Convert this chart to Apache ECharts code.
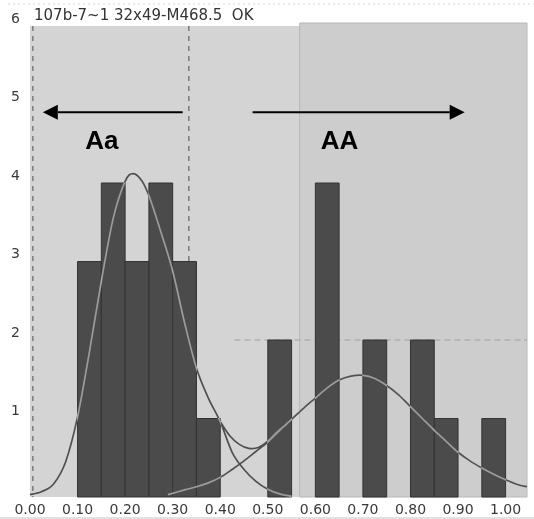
<!DOCTYPE html>
<html>
<head>
<meta charset="utf-8">
<script src="https://cdn.jsdelivr.net/npm/echarts@6/dist/echarts.min.js"></script>
<style>
  html, body { margin: 0; padding: 0; background: #ffffff; }
  #chart { width: 534px; height: 519px; }
</style>
</head>
<body>
<div id="chart"></div>
<script>
// Histogram bins (left edge of each 0.05-wide bin) and their counts
const binStarts = [0.10, 0.15, 0.20, 0.25, 0.30, 0.35, 0.50, 0.60, 0.70, 0.80, 0.85, 0.95];
const binCounts = [3, 4, 3, 4, 3, 1, 2, 4, 2, 2, 1, 1];
const binWidth = 0.05;

// Axis ranges and ticks
const xMin = 0, xMax = 1.045, xStep = 0.1;
const yMin = 0, yMax = 6, yStep = 1;

// Fitted density curves, [x, count]
const leftFit = [
  [0.000, 0.03], [0.025, 0.07], [0.050, 0.17], [0.075, 0.45], [0.100, 1.02],
  [0.125, 1.85], [0.150, 2.75], [0.175, 3.55], [0.200, 4.02], [0.217, 4.12],
  [0.235, 4.03], [0.250, 3.84], [0.275, 3.38], [0.300, 2.88], [0.325, 2.22],
  [0.350, 1.64], [0.375, 1.26], [0.400, 0.96], [0.425, 0.57], [0.450, 0.35],
  [0.475, 0.20], [0.500, 0.10], [0.525, 0.04], [0.550, 0.01]
];
const rightFit = [
  [0.290, 0.03], [0.325, 0.09], [0.350, 0.13], [0.375, 0.18], [0.400, 0.25],
  [0.425, 0.35], [0.450, 0.46], [0.475, 0.58], [0.500, 0.70], [0.525, 0.85],
  [0.550, 0.99], [0.575, 1.13], [0.600, 1.26], [0.625, 1.39], [0.650, 1.49],
  [0.675, 1.54], [0.700, 1.55], [0.725, 1.51], [0.750, 1.42], [0.775, 1.30],
  [0.800, 1.15], [0.825, 1.00], [0.850, 0.85], [0.875, 0.71], [0.900, 0.57],
  [0.925, 0.46], [0.950, 0.37], [0.975, 0.29], [1.000, 0.22], [1.025, 0.16],
  [1.045, 0.13]
];
const mixFit = [
  [0.400, 0.96], [0.420, 0.78], [0.440, 0.67], [0.460, 0.62], [0.480, 0.63],
  [0.500, 0.71], [0.520, 0.83], [0.540, 0.93]
];

// Header text and genotype annotations
const header = '107b-7~1 32x49-M468.5  OK';
const groupLabels = ['Aa', 'AA'];
const groupLabelAt = [[0.151, 4.52], [0.651, 4.52]];
const groupArrows = [[0.321, 0.027], [0.468, 0.914]]; // tail x -> head x
const arrowLevel = 4.9;

// Reference guides
const cutLines = [0.006, 0.334];
const guideLevel = 2;
const guideFrom = 0.43;
const shadedFrom = 0.567;

const chart = echarts.init(document.getElementById('chart'), null, { renderer: 'canvas' });

const labelFont = 'DejaVu Sans, Verdana, sans-serif';
const CURVE_STROKE = '#fefefe';

// Catmull-Rom spline through screen points, as SVG path data
function splinePath(pts) {
  let d = 'M' + pts[0][0] + ' ' + pts[0][1];
  for (let i = 0; i < pts.length - 1; i++) {
    const p0 = pts[Math.max(i - 1, 0)];
    const p1 = pts[i];
    const p2 = pts[i + 1];
    const p3 = pts[Math.min(i + 2, pts.length - 1)];
    const c1x = p1[0] + (p2[0] - p0[0]) / 6, c1y = p1[1] + (p2[1] - p0[1]) / 6;
    const c2x = p2[0] - (p3[0] - p1[0]) / 6, c2y = p2[1] - (p3[1] - p1[1]) / 6;
    d += ' C' + c1x + ' ' + c1y + ' ' + c2x + ' ' + c2y + ' ' + p2[0] + ' ' + p2[1];
  }
  return d;
}

const option = {
  animation: false,
  backgroundColor: '#ffffff',
  grid: {
    left: 30, right: 7, top: 26, bottom: 22,
    show: true, backgroundColor: '#d4d4d4', borderWidth: 0
  },
  xAxis: {
    type: 'value', min: xMin, max: xMax, interval: xStep,
    axisLine: { show: false }, axisTick: { show: false }, splitLine: { show: false },
    axisLabel: {
      margin: 6, color: '#3a3a3a', fontFamily: labelFont, fontSize: 14,
      formatter: function (v) {
        const k = Math.round(v / xStep);
        if (Math.abs(v - k * xStep) > 1e-6 || v > 1.0001) return '';
        return v.toFixed(2);
      }
    }
  },
  yAxis: {
    type: 'value', min: yMin, max: yMax, interval: yStep,
    axisLine: { show: false }, axisTick: { show: false }, splitLine: { show: false },
    axisLabel: {
      margin: 10, color: '#3a3a3a', fontFamily: labelFont, fontSize: 14,
      verticalAlign: 'bottom', lineHeight: 14,
      formatter: function (v) { return v === 0 ? '' : String(v); }
    }
  },
  graphic: [
    {
      type: 'line', silent: true,
      shape: { x1: 8, y1: 4, x2: 534, y2: 4 },
      style: { stroke: '#d8d8d8', lineWidth: 1, lineDash: [2, 3] }
    },
    {
      type: 'line', silent: true,
      shape: { x1: 0, y1: 518, x2: 534, y2: 518 },
      style: { stroke: '#c4c4c4', lineWidth: 1 }
    },
    {
      type: 'text', left: 34, top: 9, silent: true,
      style: { text: header, fill: '#333333', font: '15px ' + labelFont }
    }
  ],
  series: [
    {
      // darker panel on the right and the dashed guide lines
      type: 'custom', z: 1, silent: true,
      data: [[0]],
      renderItem: function (params, api) {
        const tl = api.coord([shadedFrom, yMax]);
        const br = api.coord([xMax, yMin]);
        const children = [{
          type: 'rect',
          shape: { x: tl[0], y: tl[1] - 3, width: br[0] - tl[0], height: br[1] - tl[1] + 3 },
          style: { fill: '#cdcdcd', stroke: '#b8b8b8', lineWidth: 1 }
        }];
        cutLines.forEach(function (x) {
          const a = api.coord([x, yMax]);
          const b = api.coord([x, yMin]);
          children.push({
            type: 'line', shape: { x1: a[0], y1: a[1], x2: b[0], y2: b[1] },
            style: { stroke: '#6c6c6c', lineWidth: 1.3, lineDash: [5, 5] }
          });
        });
        const g0 = api.coord([guideFrom, guideLevel]);
        const g1 = api.coord([xMax, guideLevel]);
        children.push({
          type: 'line', shape: { x1: g0[0], y1: g0[1], x2: g1[0], y2: g1[1] },
          style: { stroke: '#a0a0a0', lineWidth: 1, lineDash: [6, 4] }
        });
        return { type: 'group', children: children };
      }
    },
    {
      // histogram bars
      type: 'custom', z: 2, silent: true,
      data: binStarts.map(function (s, i) { return [s, s + binWidth, binCounts[i]]; }),
      renderItem: function (params, api) {
        const p0 = api.coord([api.value(0), api.value(2)]);
        const p1 = api.coord([api.value(1), 0]);
        return {
          type: 'rect',
          shape: { x: p0[0], y: p0[1], width: p1[0] - p0[0], height: p1[1] - p0[1] },
          style: { fill: '#4b4b4b', stroke: '#333333', lineWidth: 1 }
        };
      }
    },
    {
      // fitted curves, drawn inverted against whatever lies beneath
      type: 'custom', z: 3, silent: true,
      data: [[0]],
      renderItem: function (params, api) {
        const toPx = function (arr) { return arr.map(function (p) { return api.coord(p); }); };
        const d = splinePath(toPx(leftFit)) + ' ' + splinePath(toPx(rightFit)) + ' ' + splinePath(toPx(mixFit));
        return {
          type: 'path',
          shape: { pathData: d },
          style: { fill: null, stroke: CURVE_STROKE, lineWidth: 1.7, opacity: 0.72 }
        };
      }
    },
    {
      // genotype class arrows and labels
      type: 'custom', z: 4, silent: true,
      data: [[0]],
      renderItem: function (params, api) {
        const children = [];
        groupArrows.forEach(function (ar) {
          const tail = api.coord([ar[0], arrowLevel]);
          const head = api.coord([ar[1], arrowLevel]);
          const dir = head[0] > tail[0] ? 1 : -1;
          const headLen = 15, headHalf = 7.5;
          children.push({
            type: 'line',
            shape: { x1: tail[0], y1: tail[1], x2: head[0] - dir * headLen, y2: head[1] },
            style: { stroke: '#000000', lineWidth: 2 }
          });
          children.push({
            type: 'polygon',
            shape: { points: [[head[0], head[1]], [head[0] - dir * headLen, head[1] - headHalf], [head[0] - dir * headLen, head[1] + headHalf]] },
            style: { fill: '#000000' }
          });
        });
        groupLabels.forEach(function (t, i) {
          const p = api.coord(groupLabelAt[i]);
          children.push({
            type: 'text', x: p[0], y: p[1],
            style: {
              text: t, fill: '#000000', align: 'center', verticalAlign: 'middle',
              font: 'bold 26px Liberation Sans, Arial, sans-serif'
            }
          });
        });
        return { type: 'group', children: children };
      }
    }
  ]
};

chart.setOption(option);

// Stroke the fitted curves in "difference" mode so they read dark on the
// light background and light where they cross the bars.
(function () {
  const zr = chart.getZr();
  const list = zr.storage.getDisplayList(true);
  let found = false;
  list.forEach(function (el) {
    if (el.style && el.style.stroke === CURVE_STROKE) {
      el.style.blend = 'difference';
      el.style.opacity = 0.78;
      el.markRedraw && el.markRedraw();
      el.dirty && el.dirty();
      found = true;
    }
  });
  if (found) zr.refreshImmediately();
})();
</script>
</body>
</html>
